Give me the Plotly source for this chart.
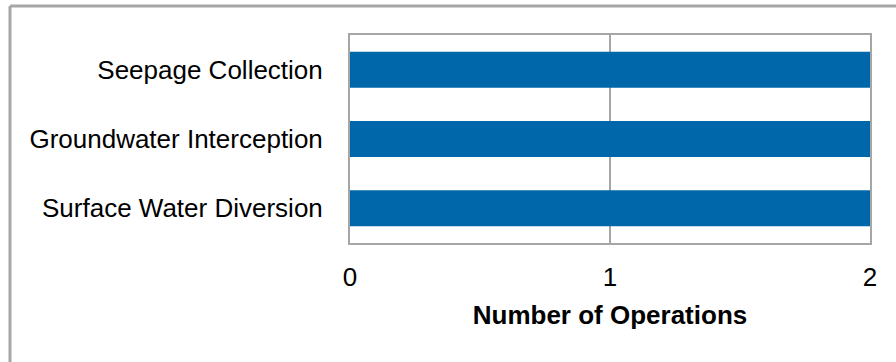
import plotly.graph_objects as go

# Water management approaches and how many operations use each
categories = ["Seepage Collection", "Groundwater Interception", "Surface Water Diversion"]
operations = [2, 2, 2]
tick_values = [0, 1, 2]
tick_labels = ["0", "1", "2"]

BAR_COLOR = "#0068AA"
LINE_GRAY = "#A6A6A6"
FONT = "Liberation Sans, Arial, sans-serif"
FONT_SIZE = 26

fig = go.Figure(
    go.Bar(
        x=operations,
        y=categories,
        orientation="h",
        marker=dict(color=BAR_COLOR, line=dict(width=0)),
        hoverinfo="x+y",
    )
)

# Plot area in pixels: x 350..870, y 35..243
plot_l, plot_r, plot_t, plot_b = 350, 870, 35, 243
pw, ph = plot_r - plot_l, plot_b - plot_t


def px_x(v):
    return (v - plot_l) / pw


def px_y(v):
    return (plot_b - v) / ph


# Outer frame: only the left and top edges fall inside the page
frame_x, frame_y = 10, 6
shapes = [
    dict(type="line", xref="paper", yref="paper",
         x0=px_x(frame_x), x1=px_x(frame_x), y0=px_y(frame_y), y1=px_y(400),
         line=dict(color=LINE_GRAY, width=3)),
    dict(type="line", xref="paper", yref="paper",
         x0=px_x(frame_x), x1=px_x(1000), y0=px_y(frame_y), y1=px_y(frame_y),
         line=dict(color=LINE_GRAY, width=3)),
]

fig.update_layout(
    width=896,
    height=362,
    margin=dict(l=plot_l, r=896 - plot_r, t=plot_t, b=362 - plot_b, pad=0),
    paper_bgcolor="white",
    plot_bgcolor="white",
    bargap=0.48,
    showlegend=False,
    font=dict(family=FONT, size=FONT_SIZE, color="#000000"),
    shapes=shapes,
    xaxis=dict(
        range=[0, 2],
        tickvals=tick_values,
        ticktext=tick_labels,
        showgrid=True,
        gridcolor=LINE_GRAY,
        gridwidth=2,
        showline=True,
        linecolor=LINE_GRAY,
        linewidth=2,
        mirror=True,
        zeroline=False,
        ticks="",
        ticklabelstandoff=10,
        tickfont=dict(family=FONT, size=FONT_SIZE, color="#000000"),
        title=dict(
            text="<b>Number of Operations</b>",
            font=dict(family=FONT, size=FONT_SIZE, color="#000000"),
            standoff=15,
        ),
        fixedrange=True,
    ),
    yaxis=dict(
        categoryorder="array",
        categoryarray=categories,
        autorange="reversed",
        showgrid=False,
        showline=True,
        linecolor=LINE_GRAY,
        linewidth=2,
        mirror=True,
        zeroline=False,
        ticks="",
        ticklabelstandoff=20,
        tickfont=dict(family=FONT, size=FONT_SIZE, color="#000000"),
        fixedrange=True,
    ),
)

fig.write_html("out.html", config={"displayModeBar": False})
